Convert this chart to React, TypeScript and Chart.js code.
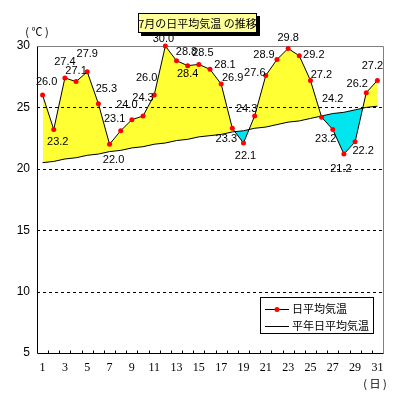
import React, { useEffect, useRef } from "react";
import { Chart, registerables } from "chart.js";

Chart.register(...registerables);

const DAYS = ["1","2","3","4","5","6","7","8","9","10","11","12","13","14","15","16","17","18","19","20","21","22","23","24","25","26","27","28","29","30","31"];
const DAILY_MEAN = [26.0,23.2,27.4,27.1,27.9,25.3,22.0,23.1,24.0,24.3,26.0,30.0,28.8,28.4,28.5,28.1,26.9,23.3,22.1,24.3,27.6,28.9,29.8,29.2,27.2,24.2,23.2,21.2,22.2,26.2,27.2];
const NORMAL_MEAN = [20.5,20.6,20.8,20.9,21.1,21.2,21.4,21.5,21.7,21.8,22.0,22.1,22.3,22.4,22.6,22.7,22.8,23.0,23.1,23.3,23.4,23.6,23.8,23.9,24.1,24.3,24.5,24.6,24.8,25.0,25.1];
const Y_TICKS = [5, 10, 15, 20, 25, 30];
const SERIES_NAMES = ["日平均気温", "平年日平均気温"];
const TITLE = "7月の日平均気温 の推移";
const Y_UNIT = "( ℃ )";
const X_UNIT = "( 日 )";

// label placement offsets (dx, dy) relative to each point
const LABEL_OFFSETS: [number, number][] = [
  [4,-13],[4,12.5],[0,-16],[0,-11],[0,-18],[8,-15],[4,16],[-6,-12],[-5,-15],[0,-18],
  [-7.5,-17],[-2,-7],[10,-9],[0,8],[4,-11],[15,-4],[11.5,-6],[-6,11],[2,13],[-8,-7],
  [-11,-3],[-13,-4.5],[0,-10],[14.5,-1],[11,-5],[11,-18],[-7,9],[-3,15],[8,9],[-9,-9],[-5,-14]
];

const SANS = "'Liberation Sans', 'Noto Sans CJK JP', sans-serif";
const CJK = "'Noto Sans CJK JP', sans-serif";
const SERIF = "'Liberation Serif', serif";

const overlay = {
  id: "overlay",
  beforeDatasetsDraw(chart: any) {
    const { ctx, chartArea: a, scales } = chart;
    const y = scales.y;
    ctx.save();
    ctx.strokeStyle = "#000";
    ctx.lineWidth = 1;
    ctx.setLineDash([3, 3]);
    for (const t of Y_TICKS) {
      if (t === 5 || t === 30) continue;
      const py = Math.round(y.getPixelForValue(t)) + 0.5;
      ctx.beginPath();
      ctx.moveTo(a.left, py);
      ctx.lineTo(a.right, py);
      ctx.stroke();
    }
    ctx.setLineDash([]);
    // frame
    const L = Math.round(a.left) + 0.5, R = Math.round(a.right) + 0.5;
    const T = Math.round(a.top) + 0.5, B = Math.round(a.bottom) + 0.5;
    ctx.strokeStyle = "#808080";
    ctx.beginPath();
    ctx.moveTo(L, T); ctx.lineTo(R, T); ctx.lineTo(R, B);
    ctx.stroke();
    ctx.strokeStyle = "#000";
    ctx.beginPath();
    ctx.moveTo(L, T); ctx.lineTo(L, B); ctx.lineTo(R, B);
    ctx.stroke();
    // inner tick marks at category boundaries
    const w = (a.right - a.left) / DAYS.length;
    for (let i = 1; i < DAYS.length; i++) {
      const px = Math.round(a.left + i * w) + 0.5;
      ctx.beginPath();
      ctx.moveTo(px, B - 3);
      ctx.lineTo(px, B);
      ctx.stroke();
    }
    ctx.restore();
  },
  afterDatasetsDraw(chart: any) {
    const { ctx } = chart;
    const meta = chart.getDatasetMeta(0);
    ctx.save();
    // data labels
    ctx.font = `11px ${SANS}`;
    ctx.fillStyle = "#000";
    ctx.textAlign = "center";
    ctx.textBaseline = "middle";
    meta.data.forEach((pt: any, i: number) => {
      const [dx, dy] = LABEL_OFFSETS[i];
      ctx.fillText(DAILY_MEAN[i].toFixed(1), pt.x + dx, pt.y + dy);
    });
    // units
    ctx.font = `11px ${CJK}`;
    ctx.fillText(Y_UNIT, 37, 32);
    ctx.fillText(X_UNIT, 375, 384);
    // title
    const tx = 138, ty = 13, tw = 119, th = 20;
    ctx.fillStyle = "#000";
    ctx.fillRect(tx + 3, ty + 3, tw, th);
    ctx.fillStyle = "#FFFF99";
    ctx.fillRect(tx, ty, tw, th);
    ctx.strokeStyle = "#000";
    ctx.lineWidth = 1;
    ctx.strokeRect(tx + 0.5, ty + 0.5, tw - 1, th - 1);
    ctx.fillStyle = "#000";
    ctx.font = `11px ${CJK}`;
    ctx.fillText(TITLE, tx + tw / 2, ty + th / 2 + 0.5);
    // legend
    const lx = 260, ly = 297, lw = 114, lh = 37;
    ctx.fillStyle = "#fff";
    ctx.fillRect(lx, ly, lw, lh);
    ctx.strokeStyle = "#000";
    ctx.strokeRect(lx + 0.5, ly + 0.5, lw - 1, lh - 1);
    const rows = [ly + 11.5, ly + 28.5];
    rows.forEach((ry, i) => {
      ctx.strokeStyle = "#000";
      ctx.beginPath();
      ctx.moveTo(lx + 5, Math.round(ry) + 0.5);
      ctx.lineTo(lx + 29, Math.round(ry) + 0.5);
      ctx.stroke();
      if (i === 0) {
        ctx.fillStyle = "#FF0000";
        ctx.beginPath();
        ctx.arc(lx + 17, Math.round(ry) + 0.5, 2.5, 0, Math.PI * 2);
        ctx.fill();
      }
      ctx.fillStyle = "#000";
      ctx.textAlign = "left";
      ctx.font = `11px ${CJK}`;
      ctx.fillText(SERIES_NAMES[i], lx + 32, ry);
    });
    ctx.restore();
  },
};

export default function App() {
  const ref = useRef<HTMLCanvasElement | null>(null);
  useEffect(() => {
    document.body.style.margin = "0";
    const canvas = ref.current!;
    const chart = new Chart(canvas, {
      type: "line",
      data: {
        labels: DAYS,
        datasets: [
          {
            label: SERIES_NAMES[0],
            data: DAILY_MEAN,
            borderColor: "#000",
            borderWidth: 1,
            pointRadius: 2.5,
            pointBackgroundColor: "#FF0000",
            pointBorderColor: "#FF0000",
            pointBorderWidth: 0,
            tension: 0,
            clip: false as any,
            fill: { target: 1, above: "#FFFF33", below: "#00E5EE" },
          },
          {
            label: SERIES_NAMES[1],
            data: NORMAL_MEAN,
            borderColor: "#000",
            borderWidth: 1,
            pointRadius: 0,
            tension: 0,
            fill: false,
          },
        ],
      },
      options: {
        animation: false,
        responsive: false,
        devicePixelRatio: 1,
        events: [],
        layout: { padding: { top: 46, right: 16, left: 0, bottom: 0 } },
        plugins: {
          legend: { display: false },
          tooltip: { enabled: false },
          filler: { drawTime: "beforeDatasetsDraw" } as any,
        },
        scales: {
          x: {
            type: "category",
            offset: true,
            grid: { display: false, drawTicks: false },
            border: { display: false },
            ticks: {
              autoSkip: false,
              maxRotation: 0,
              minRotation: 0,
              padding: 8,
              color: "#000",
              font: { family: SERIF, size: 12 },
              callback: (_v: any, i: number) => (i % 2 === 0 ? DAYS[i] : ""),
            },
            afterFit: (s: any) => { s.height = 47; },
          },
          y: {
            min: 5,
            max: 30,
            grid: { display: false, drawTicks: false },
            border: { display: false },
            ticks: {
              stepSize: 5,
              padding: 7,
              color: "#000",
              font: { family: SANS, size: 12 },
            },
            afterFit: (s: any) => { s.width = 37; },
          },
        },
      },
      plugins: [overlay],
    });
    return () => chart.destroy();
  }, []);
  return (
    <div style={{ width: 399, height: 400 }}>
      <canvas ref={ref} width={399} height={400} style={{ display: "block", width: 399, height: 400 }} />
    </div>
  );
}
